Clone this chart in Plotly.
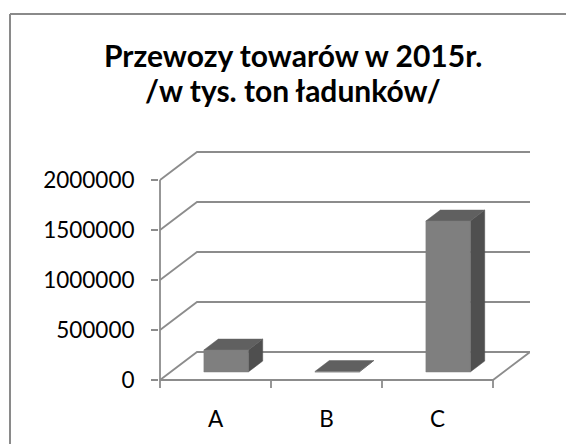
import plotly.graph_objects as go

# ---- data ----
categories = ["A", "B", "C"]
values = [220000, 5000, 1510000]
y_ticks = [0, 500000, 1000000, 1500000, 2000000]
y_tick_labels = ["0", "500000", "1000000", "1500000", "2000000"]
title_lines = ["Przewozy towarów w 2015r.", "/w tys. ton ładunków/"]

# ---- 3D projection parameters (in axis units) ----
DX = 1 / 3.0          # horizontal depth offset (category units)
DY = 280000           # vertical depth offset (value units)
F0 = 0.286            # bar front position (depth fraction)
FD = 0.39             # bar depth (fraction)
BW = 0.4              # bar width (category units)
n = len(categories)
x_left, x_right = -0.5, n - 0.5

GRID = "#8c8c8c"
FONT = "Lato"

fig = go.Figure()

# back wall gridlines + side wall diagonals
gx, gy = [], []
for v in y_ticks:
    gx += [x_left, x_left + DX, x_right + DX, None]
    gy += [v, v + DY, v + DY, None]
# floor front edge and right edge
gx += [x_left, x_right, x_right + DX, None]
gy += [0, 0, DY, None]
# front vertical axis line
gx += [x_left, x_left, None]
gy += [0, y_ticks[-1], None]
# category boundary ticks
for b in range(n + 1):
    gx += [b - 0.5, b - 0.5, None]
    gy += [0, -80000, None]
fig.add_trace(go.Scatter(x=gx, y=gy, mode="lines",
                         line=dict(color=GRID, width=1.8),
                         hoverinfo="skip", showlegend=False))

# bars
fx, fy, sx, sy, tx, ty = [], [], [], [], [], []
for i, v in enumerate(values):
    L = i - BW / 2 + F0 * DX
    R = i + BW / 2 + F0 * DX
    base = F0 * DY
    top = base + v
    ddx, ddy = FD * DX, FD * DY
    fx += [L, R, R, L, L, None]
    fy += [base, base, top, top, base, None]
    sx += [R, R + ddx, R + ddx, R, R, None]
    sy += [base, base + ddy, top + ddy, top, base, None]
    tx += [L, R, R + ddx, L + ddx, L, None]
    ty += [top, top, top + ddy, top + ddy, top, None]

for xs, ys, col in [(sx, sy, "#4f4f4f"), (tx, ty, "#606060"), (fx, fy, "#7f7f7f")]:
    fig.add_trace(go.Scatter(x=xs, y=ys, mode="lines", fill="toself",
                             fillcolor=col, line=dict(color=col, width=0.5),
                             hoverinfo="skip", showlegend=False))

# layout geometry (page body margin is removed, so figure px == screen px)
W, H = 566, 444
px_per_x = 111.0
x0 = x_left - 1 / px_per_x
x1 = x_right + DX
plot_w = (x1 - x0) * px_per_x
L_m = 159
R_m = W - L_m - plot_w
y0, y1 = -100000, 2300000
plot_h = 240
T_m = 150
B_m = H - T_m - plot_h


def px_to_paper_x(px):
    return (px - L_m) / plot_w


def px_to_paper_y(py):
    return (T_m + plot_h - py) / plot_h


annotations = []
for k, line in enumerate(title_lines):
    annotations.append(dict(
        text="<b>%s</b>" % line, showarrow=False,
        xref="paper", yref="paper",
        x=px_to_paper_x(293), y=px_to_paper_y(55 + 35 * k),
        xanchor="center", yanchor="middle",
        font=dict(family=FONT, size=30, color="black")))

border = dict(color="#8a8a8a", width=2)
fig.update_layout(
    width=W, height=H,
    margin=dict(l=L_m, r=R_m, t=T_m, b=B_m),
    paper_bgcolor="white", plot_bgcolor="white",
    xaxis=dict(range=[x0, x1], showgrid=False, zeroline=False, showline=False,
               tickvals=list(range(n)), ticktext=categories,
               ticks="outside", ticklen=9, tickcolor="rgba(0,0,0,0)",
               tickfont=dict(family=FONT, size=22.5, color="black")),
    yaxis=dict(range=[y0, y1], showgrid=False, zeroline=False, showline=False,
               tickvals=y_ticks, ticktext=y_tick_labels,
               ticks="outside", ticklen=7, tickwidth=1.8, tickcolor=GRID,
               ticklabelstandoff=12,
               tickfont=dict(family=FONT, size=22.5, color="black")),
    annotations=annotations,
    shapes=[
        dict(type="line", xref="paper", yref="paper",
             x0=px_to_paper_x(10), x1=px_to_paper_x(W + 10),
             y0=px_to_paper_y(14), y1=px_to_paper_y(14),
             line=border, layer="below"),
        dict(type="line", xref="paper", yref="paper",
             x0=px_to_paper_x(10), x1=px_to_paper_x(10),
             y0=px_to_paper_y(14), y1=px_to_paper_y(H + 10),
             line=border, layer="below"),
    ],
)

fig.write_html("out.html",
               config={"displayModeBar": False},
               post_script="document.documentElement.style.overflow='hidden';"
                           "document.body.style.overflow='hidden';"
                           "document.body.style.margin='0';")
